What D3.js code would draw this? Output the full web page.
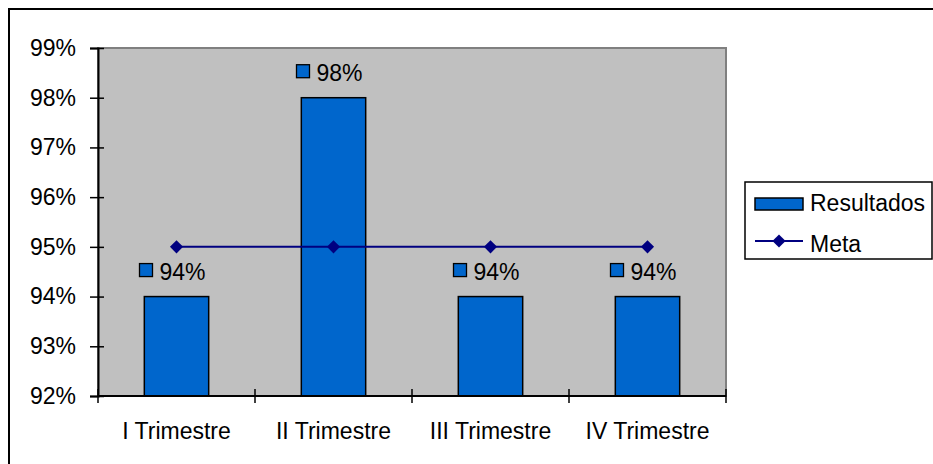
<!DOCTYPE html>
<html>
<head>
<meta charset="utf-8">
<script src="https://cdn.jsdelivr.net/npm/d3@7"></script>
<style>
  body { margin: 0; background: #fff; }
  svg { display: block; font-family: "Liberation Sans", Arial, sans-serif; }
</style>
</head>
<body>
<svg id="chart" width="933" height="464"></svg>
<script>
// chart values
const categories = ["I Trimestre", "II Trimestre", "III Trimestre", "IV Trimestre"]
const resultados = [0.94, 0.98, 0.94, 0.94]
const meta = [0.95, 0.95, 0.95, 0.95]
const yTicks = [0.92, 0.93, 0.94, 0.95, 0.96, 0.97, 0.98, 0.99]

const svg = d3.select("#chart")
const plot = {left: 98, right: 726, top: 48, bottom: 396}
const fmt = d3.format(".0%")

// outer frame (cut off at the right and bottom like the original)
svg.append("rect")
  .attr("x", 9).attr("y", 9)
  .attr("width", 940).attr("height", 470)
  .attr("fill", "#fff").attr("stroke", "#000").attr("stroke-width", 2)

const x = d3.scaleBand().domain(categories).range([plot.left, plot.right]).padding(0)
const y = d3.scaleLinear().domain([0.92, 0.99]).range([plot.bottom, plot.top])
const bw = x.bandwidth()

// grey plot area
svg.append("rect")
  .attr("x", plot.left).attr("y", plot.top)
  .attr("width", plot.right - plot.left).attr("height", plot.bottom - plot.top)
  .attr("fill", "#c0c0c0").attr("stroke", "#808080").attr("stroke-width", 2)

// bars
svg.append("g")
  .selectAll("rect")
  .data(resultados)
  .join("rect")
  .attr("x", (d, i) => x(categories[i]) + bw * 0.295)
  .attr("y", d => y(d))
  .attr("width", bw * 0.41)
  .attr("height", d => y(0.92) - y(d))
  .attr("fill", "#0066cc")
  .attr("stroke", "#000").attr("stroke-width", 1.5)

// meta line + diamonds
const cx = i => x(categories[i]) + bw / 2
svg.append("path")
  .datum(meta)
  .attr("d", d3.line().x((d, i) => cx(i)).y(d => y(d)))
  .attr("fill", "none").attr("stroke", "#000080").attr("stroke-width", 2)
svg.append("g")
  .selectAll("path")
  .data(meta)
  .join("path")
  .attr("d", d3.symbol(d3.symbolDiamond2, 110))
  .attr("transform", (d, i) => `translate(${cx(i)},${y(d)})`)
  .attr("fill", "#000080")

// data labels with legend key
const labels = svg.append("g")
  .selectAll("g")
  .data(resultados)
  .join("g")
  .attr("transform", (d, i) => `translate(${cx(i)},${y(d) - 17})`)
labels.append("rect")
  .attr("x", -37).attr("y", -16)
  .attr("width", 13).attr("height", 13)
  .attr("fill", "#0066cc").attr("stroke", "#000").attr("stroke-width", 1.3)
labels.append("text")
  .attr("x", -17).attr("y", 0)
  .attr("font-size", 23)
  .text(d => fmt(d))

// y axis
const yAxis = svg.append("g")
  .attr("transform", `translate(${plot.left},0)`)
  .call(d3.axisLeft(y).tickValues(yTicks).tickFormat(fmt).tickSize(8).tickPadding(14))
yAxis.select(".domain").attr("stroke", "#000").attr("stroke-width", 2)
yAxis.selectAll(".tick line").attr("x1", 6).attr("stroke-width", 1.5)
yAxis.selectAll("text").attr("font-size", 23).attr("fill", "#000")

// x axis, ticks on band edges crossing the axis
const xAxis = svg.append("g")
  .attr("transform", `translate(0,${plot.bottom})`)
xAxis.append("line")
  .attr("x1", plot.left).attr("x2", plot.right)
  .attr("stroke", "#000").attr("stroke-width", 2)
const edges = categories.map(c => x(c)).concat([x(categories[categories.length - 1]) + bw])
xAxis.selectAll(".edge")
  .data(edges)
  .join("line")
  .attr("class", "edge")
  .attr("x1", d => d).attr("x2", d => d)
  .attr("y1", -7).attr("y2", 7)
  .attr("stroke", "#000").attr("stroke-width", 1.5)
xAxis.selectAll("text")
  .data(categories)
  .join("text")
  .attr("x", d => x(d) + bw / 2)
  .attr("y", 43)
  .attr("text-anchor", "middle")
  .attr("font-size", 23)
  .text(d => d)

// legend
const legend = svg.append("g").attr("transform", "translate(745,182)")
legend.append("rect")
  .attr("width", 187).attr("height", 77)
  .attr("fill", "#fff").attr("stroke", "#000").attr("stroke-width", 1.5)
legend.append("rect")
  .attr("x", 10).attr("y", 16).attr("width", 48).attr("height", 12)
  .attr("fill", "#0066cc").attr("stroke", "#000").attr("stroke-width", 1.5)
legend.append("text")
  .attr("x", 65).attr("y", 29).attr("font-size", 23)
  .text("Resultados")
legend.append("line")
  .attr("x1", 10).attr("x2", 58).attr("y1", 59).attr("y2", 59)
  .attr("stroke", "#000080").attr("stroke-width", 2)
legend.append("path")
  .attr("d", d3.symbol(d3.symbolDiamond2, 110))
  .attr("transform", "translate(34,59)")
  .attr("fill", "#000080")
legend.append("text")
  .attr("x", 65).attr("y", 70).attr("font-size", 23)
  .text("Meta")
</script>
</body>
</html>
